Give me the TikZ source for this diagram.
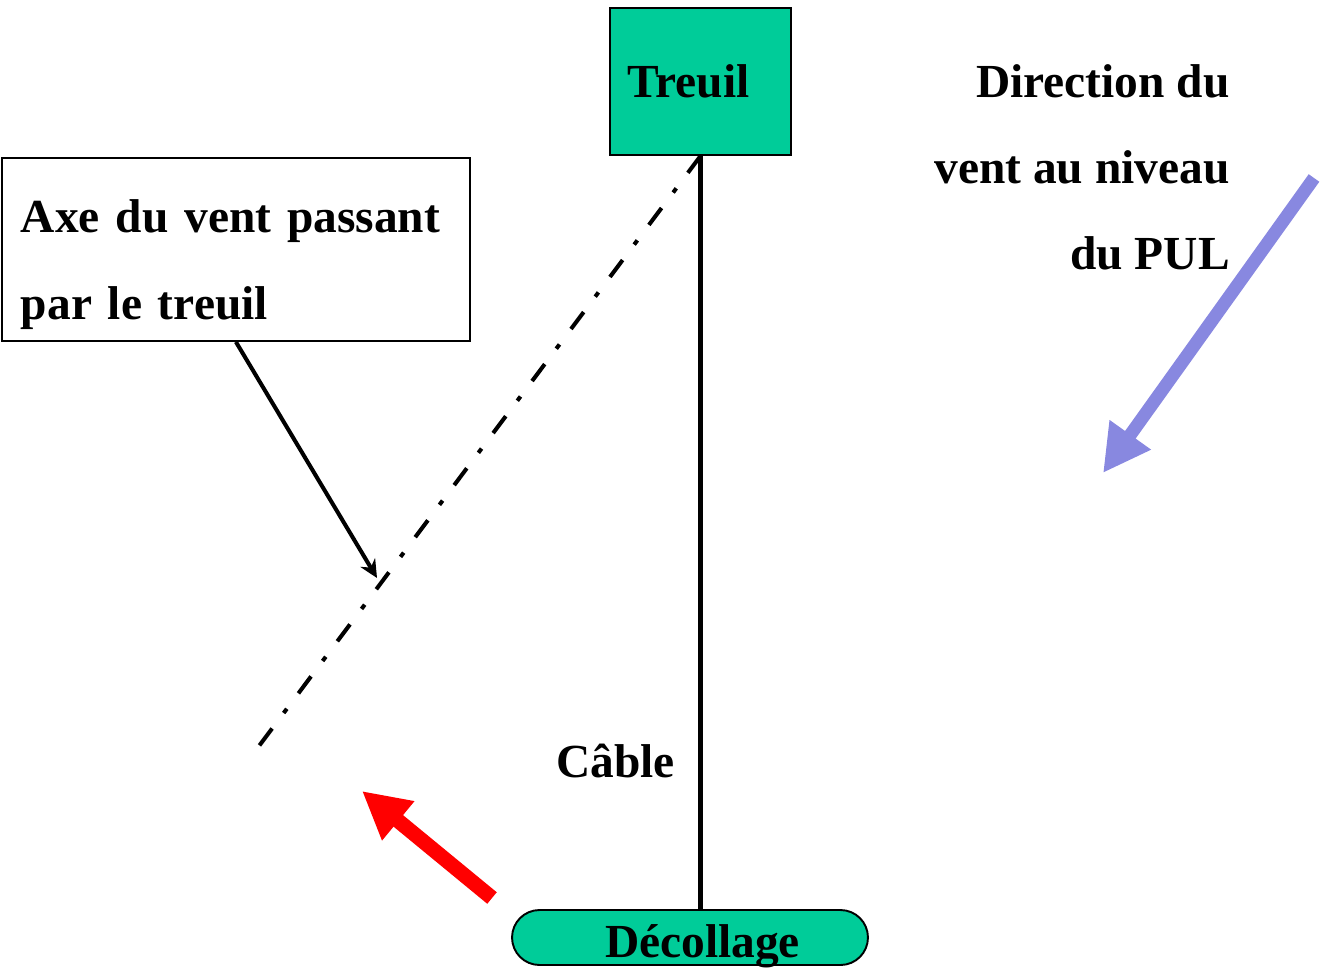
\documentclass[tikz,border=0pt]{standalone}
\usepackage{fontspec}
\setmainfont{Liberation Serif}
\usetikzlibrary{arrows.meta,shapes.misc}

\definecolor{vert}{RGB}{0,204,153}
\definecolor{bleuvent}{RGB}{136,136,224}

\tikzset{
  texte/.style={font=\fontsize{27}{49}\selectfont\bfseries},
  boite/.style={draw,line width=1.1pt,texte},
  axevent/.style={line width=2.3pt,dash pattern=on 12pt off 11pt on 3pt off 11pt},
  fleche/.style={line width=8.5pt,-{Triangle[length=0.94cm,width=0.95cm]}}
}

\begin{document}
\begin{tikzpicture}[x=0.02cm,y=-0.02cm]
\useasboundingbox (0,0) rectangle (1325,967);

\coordinate (bout) at (256,750);
\coordinate (cible) at (377,578);
\coordinate (r0) at (492,898);
\coordinate (r1) at (362,791);
\coordinate (b0) at (1314,178);
\coordinate (b1) at (1103,473);

\node[boite,fill=vert,minimum width=3.62cm,minimum height=2.94cm] (treuil) at (700.5,81.5) {Treuil\hspace*{0.48cm}};

\node[boite,anchor=north west,align=left,text width=8.6cm,inner xsep=0.38cm,inner ysep=0pt,
      text height=1.26cm,text depth=1.92cm,minimum height=3.66cm] (legende) at (1,157)
      {Axe du vent passant\\par le treuil};

\node[boite,rounded rectangle,fill=vert,minimum width=7.12cm,minimum height=1.1cm,
      inner sep=0pt,text height=0.78cm,text depth=0pt] (decollage) at (690,937.5) {\hspace*{0.5cm}Décollage};

\node[texte,anchor=base east,inner sep=0pt] (cable) at (675,777) {Câble};
\node[texte,align=right,anchor=north east,inner sep=0pt] (direction) at (1230,64)
      {Direction du\\vent au niveau\\du PUL};

% cable et axe du vent
\draw[line width=2.3pt] (treuil.south) -- (treuil.south |- decollage.north);
\draw[axevent] (treuil.south) -- (bout);
\draw[line width=2.3pt,-{Stealth[length=0.36cm,width=0.34cm]}] (legende.south) -- (cible);

% vents
\draw[fleche,red] (r0) -- (r1);
\draw[fleche,bleuvent,line width=7.4pt] (b0) -- (b1);

\end{tikzpicture}
\end{document}
